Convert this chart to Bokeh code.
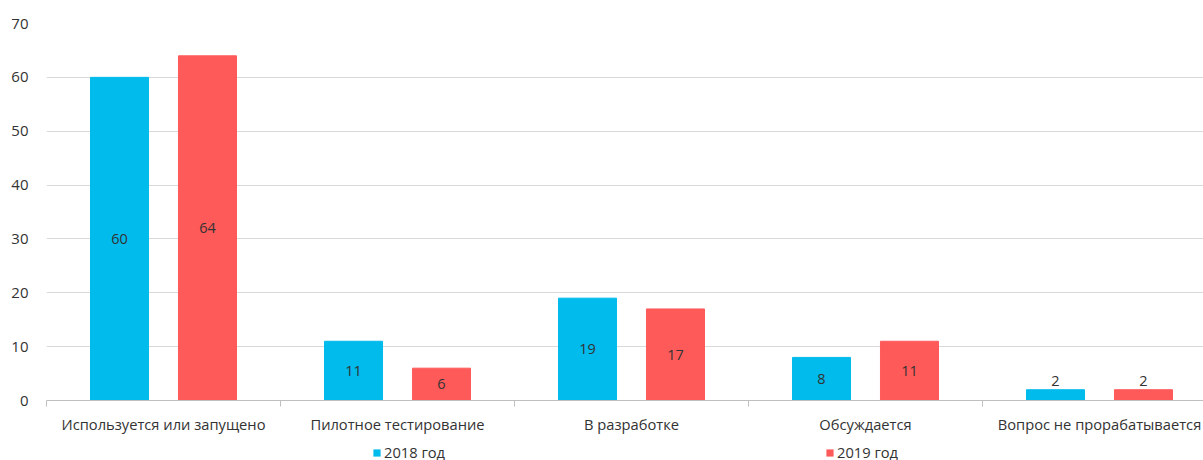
import numpy as np
from bokeh.plotting import figure
from bokeh.layouts import column
from bokeh.models import (ColumnDataSource, Range1d, FixedTicker, Legend, LegendItem,
                          LabelSet)
from bokeh.core.properties import value
from bokeh.embed import file_html
from bokeh.resources import INLINE

# --- data ---
categories = ["Используется или запущено", "Пилотное тестирование", "В разработке",
              "Обсуждается", "Вопрос не прорабатывается"]
values_2018 = [60, 11, 19, 8, 2]
values_2019 = [64, 6, 17, 11, 2]
series_names = ["2018 год", "2019 год"]
y_ticks = [0, 10, 20, 30, 40, 50, 60, 70]

BLUE = "#00BBEC"
RED = "#FF5A5A"
TEXT = "#333333"
FONT = "Open Sans"

n = len(categories)
centers = np.arange(n) + 0.5
offset = 0.188
bar_w = 0.248

def label_y(vals):
    # tall bars: label in the middle; short bars: label just above the bar
    return [v / 2 if v >= 5 else v + 1.6 for v in vals]

src18 = ColumnDataSource(dict(x=centers - offset, top=values_2018,
                              ly=label_y(values_2018),
                              txt=[str(v) for v in values_2018]))
src19 = ColumnDataSource(dict(x=centers + offset, top=values_2019,
                              ly=label_y(values_2019),
                              txt=[str(v) for v in values_2019]))

p = figure(frame_width=1157, frame_height=377, output_backend="svg", toolbar_location=None,
           x_range=Range1d(0, 1157 / 234), y_range=Range1d(0, 70),
           min_border_left=46, min_border_top=23, min_border_bottom=40, min_border_right=0)
p.outline_line_color = None
p.background_fill_color = "white"
p.border_fill_color = "white"

p.vbar(x="x", top="top", width=bar_w, source=src18, color=BLUE)
p.vbar(x="x", top="top", width=bar_w, source=src19, color=RED)

for src in (src18, src19):
    lbl = LabelSet(x="x", y="ly", text="txt", source=src, text_align="center",
                   text_baseline="middle", text_font=value(FONT), text_font_size="14.5px",
                   text_color=TEXT)
    p.add_layout(lbl)

# y axis
p.yaxis.ticker = FixedTicker(ticks=y_ticks)
p.yaxis.axis_line_color = None
p.yaxis.major_tick_line_color = None
p.yaxis.minor_tick_line_color = None
p.yaxis.major_label_text_font = FONT
p.yaxis.major_label_text_font_size = "15px"
p.yaxis.major_label_text_color = TEXT
p.yaxis.major_label_standoff = 12

# x axis: labels at category centres, tick marks at category boundaries
p.xaxis.ticker = FixedTicker(ticks=list(centers), minor_ticks=list(range(n + 1)))
p.xaxis.major_label_overrides = {float(c): name for c, name in zip(centers, categories)}
p.xaxis.major_tick_line_color = None
p.xaxis.minor_tick_line_color = "#BFBFBF"
p.xaxis.minor_tick_in = 0
p.xaxis.minor_tick_out = 6
p.xaxis.axis_line_color = "#BFBFBF"
p.xaxis.major_label_text_font = FONT
p.xaxis.major_label_text_font_size = "14.7px"
p.xaxis.major_label_text_color = TEXT
p.xaxis.major_label_standoff = 7
p.xaxis.axis_label_standoff = 0

p.xgrid.grid_line_color = None
p.ygrid.grid_line_color = "#D9D9D9"
p.ygrid.grid_line_width = 1

# legend strip under the chart; its swatch renderers reuse the series sources
# but lie entirely outside this strip's visible ranges, so only the legend shows
leg_fig = figure(width=1203, height=20, output_backend="svg", toolbar_location=None,
                 x_range=Range1d(100, 101), y_range=Range1d(100, 101),
                 min_border=0, outline_line_color=None)
leg_fig.axis.visible = False
leg_fig.grid.visible = False
sw18 = leg_fig.vbar(x="x", top="top", width=bar_w, source=src18,
                    fill_color=BLUE, line_color=None)
sw19 = leg_fig.vbar(x="x", top="top", width=bar_w, source=src19,
                    fill_color=RED, line_color=None)

legend = Legend(items=[LegendItem(label=series_names[0], renderers=[sw18]),
                       LegendItem(label=series_names[1], renderers=[sw19])],
                location=(326, -2), orientation="horizontal",
                glyph_width=9, glyph_height=9, label_standoff=3, spacing=380,
                padding=0, margin=0, border_line_color=None,
                background_fill_alpha=0, label_text_font=FONT,
                label_text_font_size="14.7px", label_text_color=TEXT, label_height=14)
leg_fig.add_layout(legend)

layout = column(p, leg_fig, spacing=0)
open("out.html", "w").write(file_html(layout, INLINE))
